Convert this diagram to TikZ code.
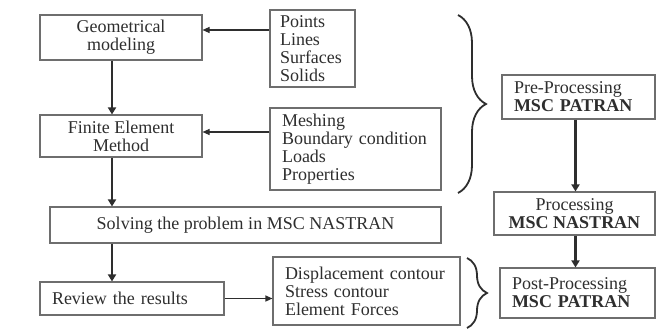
\documentclass[tikz,border=0pt]{standalone}
\usepackage{fontspec}
\setmainfont{Liberation Serif}
\usetikzlibrary{arrows.meta,decorations.pathreplacing}
\definecolor{boxgray}{HTML}{6E6E6E}
\definecolor{inkgray}{HTML}{2E2E2E}

\begin{document}
\begin{tikzpicture}[x=1pt,y=-1pt,
    font=\fontsize{18}{18}\selectfont, text=inkgray,
    box/.style={draw=boxgray, line width=1.1pt, inner sep=0pt, align=center},
    lbox/.style={box, align=left, inner xsep=12pt},
    bigarrow/.style={draw=inkgray, line width=2.6pt, -{Triangle[length=7pt,width=8pt]}},
    thinarrow/.style={draw=inkgray, line width=1.1pt, -{Triangle[length=7pt,width=6pt]}},
    curly/.style={draw=inkgray, line width=1.8pt, decorate}
  ]
    \useasboundingbox (0,0) rectangle (670,335);

    % left column
    \node[box, minimum width=162pt, minimum height=45pt] (geo) at (121,37.5)
        {Geometrical\\modeling};
    \node[box, minimum width=162pt, minimum height=42pt] (fem) at (121,136)
        {Finite Element\\Method};
    \node[box, minimum width=391pt, minimum height=36pt] (solve) at (245.5,225)
        {Solving the problem in MSC NASTRAN};
    \node[lbox, text width=160pt, minimum height=33pt] (review) at (132,298.5)
        {Review the results};

    % input lists
    \node[lbox, inner xsep=10pt, text width=65pt, minimum height=77pt] (pts) at (312.5,48.5)
        {Points\\Lines\\Surfaces\\Solids};
    \node[lbox, text width=147pt, minimum height=82pt] (mesh) at (355.5,149)
        {Meshing\\Boundary condition\\Loads\\Properties};
    \node[lbox, text width=163pt, minimum height=68pt] (disp) at (366.5,291)
        {Displacement contour\\Stress contour\\Element Forces};

    % right column
    \node[lbox, text width=129pt, minimum height=44pt] (pre) at (578.5,97)
        {Pre-Processing\\\textbf{MSC PATRAN}};
    \node[box, minimum width=161pt, minimum height=43pt] (proc) at (574.5,213.5)
        {Processing\\\textbf{MSC NASTRAN}};
    \node[lbox, text width=131pt, minimum height=50pt] (post) at (577.5,293)
        {Post-Processing\\\textbf{MSC PATRAN}};

    % vertical flow
    \draw[bigarrow] ([xshift=-9pt]geo.south) -- ([xshift=-9pt]fem.north);
    \draw[bigarrow] ([xshift=-9pt]fem.south) -- ([xshift=-9pt]fem.south |- solve.north);
    \draw[bigarrow] ([xshift=-9pt]fem.south |- solve.south) -- ([xshift=-20pt]review.north);
    \draw[bigarrow] ([xshift=-3pt]pre.south) -- ([xshift=-3pt]pre.south |- proc.north);
    \draw[bigarrow] ([xshift=-3pt]pre.south |- proc.south) -- ([xshift=-3pt]pre.south |- post.north);

    % side arrows
    \coordinate (geoin) at ([yshift=7.5pt]geo.east);
    \coordinate (femin) at ([yshift=4pt]fem.east);
    \draw[thinarrow] (pts.west |- geoin) -- (geoin);
    \draw[thinarrow] (mesh.west |- femin) -- (femin);
    \draw[thinarrow] (review.east) -- (review.east -| disp.west);

    % braces
    \draw[curly, decoration={brace, amplitude=28pt}] (458,15) -- (458,193);
    \draw[curly, decoration={brace, amplitude=20pt}] (467,258) -- (467,328);
\end{tikzpicture}
\end{document}
